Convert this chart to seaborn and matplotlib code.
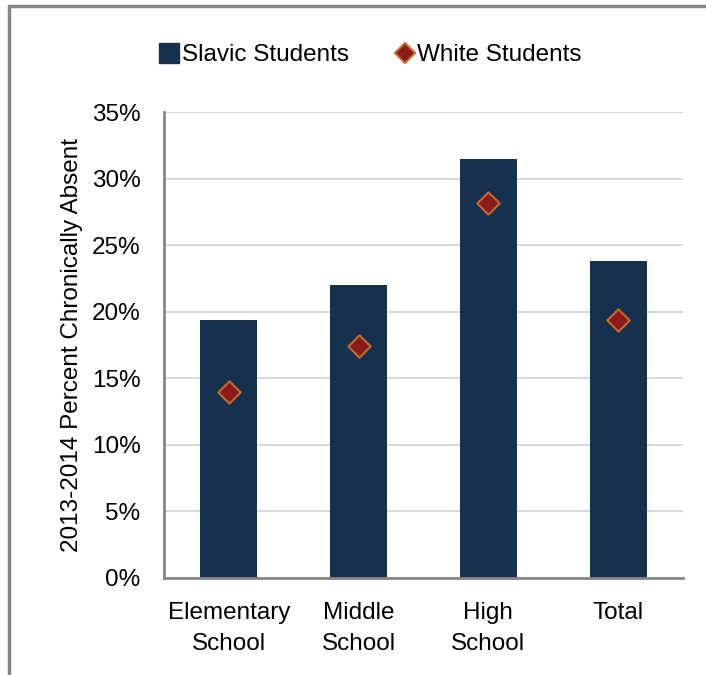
import matplotlib
matplotlib.use("Agg")
import matplotlib.pyplot as plt
import seaborn as sns
import pandas as pd
from matplotlib.lines import Line2D
from matplotlib.ticker import MultipleLocator, FuncFormatter

categories = ["Elementary\nSchool", "Middle\nSchool", "High\nSchool", "Total"]
slavic = [19.4, 22.0, 31.5, 23.8]
white = [14.0, 17.4, 28.2, 19.4]
series_names = ["Slavic Students", "White Students"]
ylabel = "2013-2014 Percent Chronically Absent"

df = pd.DataFrame({"cat": categories, "slavic": slavic, "white": white})

sns.set_style("white")
plt.rcParams["font.family"] = ["Liberation Sans", "DejaVu Sans"]
plt.rcParams["text.color"] = "black"
plt.rcParams["axes.labelcolor"] = "black"
plt.rcParams["xtick.color"] = "black"
plt.rcParams["ytick.color"] = "black"

bar_color = "#17304d"
dia_face = "#8c1a1a"
dia_edge = "#c06a2c"
spine_c = "#868686"
fs = 17.5

fig = plt.figure(figsize=(7.06, 6.75), dpi=100)
ax = fig.add_axes([164/706, 1-578/675, (683-164)/706, (578-112)/675])

sns.barplot(data=df, x="cat", y="slavic", color=bar_color, width=0.44,
            saturation=1, ax=ax, zorder=2, linewidth=0)
sns.scatterplot(data=df, x="cat", y="white", marker="D", s=130, color=dia_face,
                edgecolor=dia_edge, linewidth=1.5, ax=ax, zorder=3)

ax.set_ylim(0, 35)
ax.set_xlim(-0.5, 3.5)
ax.yaxis.set_major_locator(MultipleLocator(5))
ax.yaxis.set_major_formatter(FuncFormatter(lambda v, p: f"{int(round(v))}%"))
ax.grid(axis="y", color="#d9d9d9", linewidth=1.5, zorder=0)
ax.set_axisbelow(True)
for s in ["top", "right"]:
    ax.spines[s].set_visible(False)
for s in ["left", "bottom"]:
    ax.spines[s].set_color(spine_c)
    ax.spines[s].set_linewidth(2)

ax.set_xticks([0, 1, 2, 3])
ax.set_xticklabels(categories, linespacing=1.55)
ax.set_xticks([-0.5, 0.5, 1.5, 2.5, 3.5], minor=True)
ax.tick_params(axis="x", which="major", length=0, pad=17, labelsize=fs)
ax.tick_params(axis="x", which="minor", length=7, width=2, color=spine_c, direction="out")
ax.tick_params(axis="y", length=7, width=2, color=spine_c, direction="out", pad=10,
               labelsize=fs, labelcolor="black")
ax.set_xlabel("")
ax.set_ylabel(ylabel, fontsize=fs, labelpad=6)

handles = [
    Line2D([], [], marker="s", linestyle="", markersize=15, color=bar_color),
    Line2D([], [], marker="D", linestyle="", markersize=10, markerfacecolor=dia_face,
           markeredgecolor=dia_edge, markeredgewidth=1.5),
]
fig.legend(handles, series_names, loc="center", bbox_to_anchor=(0.523, 1-55/675),
           ncol=2, frameon=False, fontsize=fs, handletextpad=0.0, columnspacing=1.8,
           handlelength=1.0)

# outer frame (top and left border)
fig.add_artist(Line2D([9/706, 1.0], [1-6/675, 1-6/675], color=spine_c, linewidth=2.5,
                      transform=fig.transFigure))
fig.add_artist(Line2D([9/706, 9/706], [0, 1-6/675], color=spine_c, linewidth=2.5,
                      transform=fig.transFigure))

fig.savefig("out.png", dpi=100)
